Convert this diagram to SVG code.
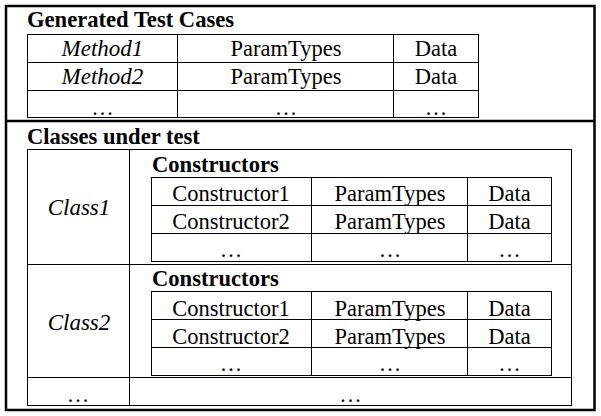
<svg xmlns="http://www.w3.org/2000/svg" width="601" height="416" viewBox="0 0 601 416">
  <style>
    .frame { fill: none; stroke: #000; stroke-width: 2.5; }
    .grid { fill: none; stroke: #000; stroke-width: 1; }
    text { font-family: "Liberation Serif", "Times New Roman", serif; fill: #000; }
    .h { font-weight: bold; font-size: 22.6px; }
    .t { font-size: 22.5px; text-anchor: middle; }
    .i { font-style: italic; font-size: 23px; }
  </style>
  <rect width="601" height="416" fill="#fff"/>

  <!-- outer frame and section divider -->
  <g id="frame">
    <rect class="frame" x="6" y="6" width="588.5" height="404"/>
    <line class="frame" x1="6" y1="121" x2="594.5" y2="121"/>
  </g>

  <!-- generated test cases table -->
  <g id="generated-test-cases">
    <text class="h" x="27" y="27">Generated Test Cases</text>
    <rect class="grid" x="27.5" y="34.5" width="451" height="83"/>
    <path class="grid" d="M177.5 34.5V117.5M393.5 34.5V117.5M27.5 62.5H478.5M27.5 90.5H478.5"/>
    <text class="t i" x="102.5" y="56">Method1</text>
    <text class="t" x="286" y="56">ParamTypes</text>
    <text class="t" x="436" y="56">Data</text>
    <text class="t i" x="102.5" y="84">Method2</text>
    <text class="t" x="286" y="84">ParamTypes</text>
    <text class="t" x="436" y="84">Data</text>
    <text class="t" x="102.5" y="115">…</text>
    <text class="t" x="286" y="115">…</text>
    <text class="t" x="436" y="115">…</text>
  </g>

  <!-- classes under test table -->
  <g id="classes-under-test">
    <text class="h" x="27" y="144">Classes under test</text>
    <rect class="grid" x="27.5" y="149.5" width="544" height="256"/>
    <path class="grid" d="M129.5 149.5V405.5M27.5 264.5H571.5M27.5 377.5H571.5"/>
    <text class="t" x="78" y="401.5">…</text>
    <text class="t" x="350.5" y="401.5">…</text>
  </g>

  <g id="class1">
    <text class="t i" x="79" y="215">Class1</text>
    <text class="h" x="152" y="172">Constructors</text>
    <rect class="grid" x="151.5" y="177.5" width="400" height="84"/>
    <path class="grid" d="M311.5 177.5V261.5M467.5 177.5V261.5M151.5 205.5H551.5M151.5 233.5H551.5"/>
    <text class="t" x="231" y="201">Constructor1</text>
    <text class="t" x="390" y="201">ParamTypes</text>
    <text class="t" x="509.5" y="201">Data</text>
    <text class="t" x="231" y="229">Constructor2</text>
    <text class="t" x="390" y="229">ParamTypes</text>
    <text class="t" x="509.5" y="229">Data</text>
    <text class="t" x="231" y="257">…</text>
    <text class="t" x="390" y="257">…</text>
    <text class="t" x="509.5" y="257">…</text>
  </g>

  <g id="class2">
    <text class="t i" x="79" y="330">Class2</text>
    <text class="h" x="152" y="286">Constructors</text>
    <rect class="grid" x="151.5" y="291.5" width="400" height="84"/>
    <path class="grid" d="M311.5 291.5V375.5M467.5 291.5V375.5M151.5 319.5H551.5M151.5 347.5H551.5"/>
    <text class="t" x="231" y="316">Constructor1</text>
    <text class="t" x="390" y="316">ParamTypes</text>
    <text class="t" x="509.5" y="316">Data</text>
    <text class="t" x="231" y="344">Constructor2</text>
    <text class="t" x="390" y="344">ParamTypes</text>
    <text class="t" x="509.5" y="344">Data</text>
    <text class="t" x="231" y="371">…</text>
    <text class="t" x="390" y="371">…</text>
    <text class="t" x="509.5" y="371">…</text>
  </g>
</svg>
